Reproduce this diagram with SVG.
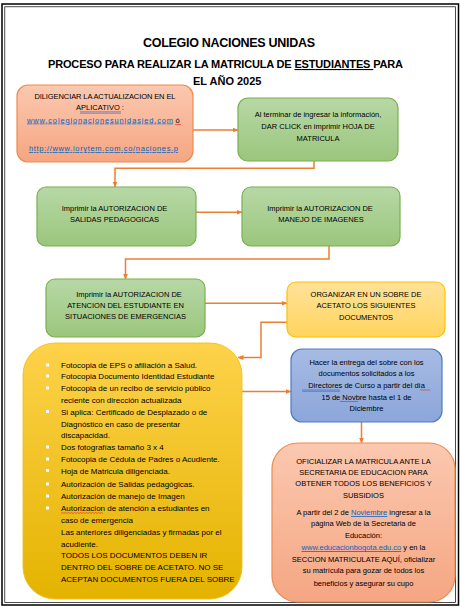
<svg xmlns="http://www.w3.org/2000/svg" width="462" height="609" viewBox="0 0 462 609">
<defs>
<linearGradient id="gOrange" x1="0" y1="0" x2="0" y2="1"><stop offset="0" stop-color="#fbc8b0"/><stop offset="1" stop-color="#f5a682"/></linearGradient>
<linearGradient id="gGreen" x1="0" y1="0" x2="0" y2="1"><stop offset="0" stop-color="#b7d8a6"/><stop offset="1" stop-color="#9bc67d"/></linearGradient>
<linearGradient id="gYellow" x1="0" y1="0" x2="0" y2="1"><stop offset="0" stop-color="#ffe29a"/><stop offset="1" stop-color="#ffd55e"/></linearGradient>
<linearGradient id="gGold" x1="0" y1="0" x2="0" y2="1"><stop offset="0" stop-color="#fed24a"/><stop offset="1" stop-color="#e4b300"/></linearGradient>
<linearGradient id="gBlue" x1="0" y1="0" x2="0" y2="1"><stop offset="0" stop-color="#a7bbe3"/><stop offset="1" stop-color="#8ba6da"/></linearGradient>
<marker id="arr" viewBox="0 0 6 6" refX="5.5" refY="3" markerWidth="6" markerHeight="6" markerUnits="userSpaceOnUse" orient="auto"><path d="M0,0.5 L6,3 L0,5.5 Z" fill="#ed7d31"/></marker>
</defs>
<style>
text{font-family:"Liberation Sans",Arial,sans-serif;fill:#000}
.t{font-size:7.5px}
.b{font-size:8px}
.c{text-anchor:middle}
.h{font-weight:bold}
.lnk{fill:#0563c1;text-decoration:underline}
.conn{fill:none;stroke:#ed7d31;stroke-width:1.5}
.wavy{fill:none;stroke:#e02020;stroke-width:0.6}
.dbl{stroke:#3b5fc0;stroke-width:0.6}
</style>
<rect width="462" height="609" fill="#fff"/>
<g id="frame" fill="none" stroke="#000">
<rect x="2" y="4" width="456.5" height="601" stroke-width="1.5"/>
<rect x="4.8" y="6.8" width="450.8" height="595.6" stroke-width="0.7"/>
</g>
<g id="title">
<text class="c h" x="229" y="47" font-size="12.5" textLength="172">COLEGIO NACIONES UNIDAS</text>
<text class="c h" x="225.5" y="68" font-size="11" textLength="355">PROCESO PARA REALIZAR LA MATRICULA DE <tspan text-decoration="underline">ESTUDIANTES </tspan>PARA</text>
<text class="h" x="193" y="85" font-size="11">EL AÑO 2025</text>
</g>
<g id="connectors">
<path class="conn" d="M193,130 H238" marker-end="url(#arr)"/>
<path class="conn" d="M314,161 V168.3 H115 V187" marker-end="url(#arr)"/>
<path class="conn" d="M196,212.3 H242" marker-end="url(#arr)"/>
<path class="conn" d="M329,246 V259 H125.5 V279" marker-end="url(#arr)"/>
<path class="conn" d="M205,303.3 H287" marker-end="url(#arr)"/>
<path class="conn" d="M287,322.3 H261 V357.5 H238" marker-end="url(#arr)"/>
<path class="conn" d="M241,391.5 H291" marker-end="url(#arr)"/>
<path class="conn" d="M361.5,422 V443" marker-end="url(#arr)"/>
</g>
<g id="n1">
<rect x="17" y="85" width="176" height="77" rx="11" fill="url(#gOrange)" stroke="#f08a4b" stroke-width="1.2"/>
<text class="t c" x="105" y="99" textLength="141">DILIGENCIAR LA ACTUALIZACION  EN EL</text>
<text class="t c" x="100" y="110">APLICATIVO :</text>
<line class="dbl" x1="80" y1="111.8" x2="121" y2="111.8"/>
<line class="dbl" x1="80" y1="113.2" x2="121" y2="113.2"/>
<text class="t lnk" x="27" y="122.5" textLength="146">www.colegionacionesunidasied.com</text>
<text class="t" x="175.5" y="122.5">ó</text>
<path class="wavy" d="M175,125 l1,-1 l1,1 l1,-1 l1,1 l1,-1 l1,1"/>
<text class="t lnk" x="29" y="151" textLength="149">http://www.lorytem.com.co/naciones.p</text>
</g>
<g id="n2">
<rect x="238" y="98" width="160" height="63" rx="10" fill="url(#gGreen)" stroke="#79b04f" stroke-width="1.2"/>
<text class="t c" x="318" y="117">Al terminar de ingresar la información,</text>
<text class="t c" x="318" y="129">DAR CLICK en imprimir HOJA DE</text>
<text class="t c" x="318" y="141">MATRICULA</text>
</g>
<g id="n3">
<rect x="37" y="187" width="159" height="59" rx="9" fill="url(#gGreen)" stroke="#79b04f" stroke-width="1.2"/>
<text class="t c" x="114.5" y="211">Imprimir la AUTORIZACION DE</text>
<text class="t c" x="114.5" y="221.5">SALIDAS PEDAGOGICAS</text>
</g>
<g id="n4">
<rect x="242" y="187" width="158" height="59" rx="9" fill="url(#gGreen)" stroke="#79b04f" stroke-width="1.2"/>
<text class="t c" x="320" y="211">Imprimir la AUTORIZACION DE</text>
<text class="t c" x="321" y="221.5">MANEJO DE IMAGENES</text>
</g>
<g id="n5">
<rect x="46" y="279" width="159" height="58" rx="9" fill="url(#gGreen)" stroke="#79b04f" stroke-width="1.2"/>
<text class="t c" x="129" y="297">Imprimir la AUTORIZACION DE</text>
<text class="t c" x="125.5" y="307.5">ATENCION DEL ESTUDIANTE EN</text>
<text class="t c" x="125.5" y="318.5">SITUACIONES DE EMERGENCIAS</text>
</g>
<g id="n6">
<rect x="287" y="282" width="158" height="55" rx="9" fill="url(#gYellow)" stroke="#ffc000" stroke-width="1.2"/>
<text class="t c" x="366" y="297">ORGANIZAR EN UN SOBRE DE</text>
<text class="t c" x="366" y="308">ACETATO  LOS SIGUIENTES</text>
<text class="t c" x="366" y="319.5">DOCUMENTOS</text>
</g>
<g id="n7">
<rect x="23" y="343" width="219" height="256" rx="32" fill="url(#gGold)" stroke="#f2bd10" stroke-width="0.8"/>
<g fill="#fff">
<rect x="46" y="363.5" width="3" height="3"/>
<rect x="46" y="374.5" width="3" height="3"/>
<rect x="46" y="386.5" width="3" height="3"/>
<rect x="46" y="410" width="3" height="3"/>
<rect x="46" y="445.5" width="3" height="3"/>
<rect x="46" y="457.5" width="3" height="3"/>
<rect x="46" y="469" width="3" height="3"/>
<rect x="46" y="482.5" width="3" height="3"/>
<rect x="46" y="494.5" width="3" height="3"/>
<rect x="46" y="506.5" width="3" height="3"/>
</g>
<text class="b" x="61" y="368">Fotocopia de EPS o afiliación a Salud.</text>
<text class="b" x="61" y="379">Fotocopia Documento Identidad Estudiante</text>
<text class="b" x="61" y="391">Fotocopia de un recibo de servicio público</text>
<text class="b" x="61" y="403">reciente con dirección actualizada</text>
<text class="b" x="61" y="414.5">Si aplica: Certificado de Desplazado o de</text>
<text class="b" x="61" y="426.5">Diagnóstico en caso de presentar</text>
<text class="b" x="61" y="438">discapacidad.</text>
<text class="b" x="61" y="450">Dos fotografías tamaño 3 x 4</text>
<text class="b" x="61" y="462">Fotocopia de Cédula de Padres o Acudiente.</text>
<text class="b" x="61" y="473.5">Hoja de Matricula diligenciada.</text>
<text class="b" x="61" y="487">Autorización de Salidas pedagógicas.</text>
<text class="b" x="61" y="499">Autorización de manejo de Imagen</text>
<text class="b" x="61" y="511">Autorizacion de atención a estudiantes en</text>
<path class="wavy" d="M61,513.5 l1.5,-1 l1.5,1 l1.5,-1 l1.5,1 l1.5,-1 l1.5,1 l1.5,-1 l1.5,1 l1.5,-1 l1.5,1 l1.5,-1 l1.5,1 l1.5,-1 l1.5,1 l1.5,-1 l1.5,1 l1.5,-1 l1.5,1 l1.5,-1 l1.5,1 l1.5,-1 l1.5,1 l1.5,-1 l1.5,1 l1.5,-1 l1.5,1 l1.5,-1 l1.5,1"/>
<text class="b" x="61" y="523">caso de emergencia</text>
<text class="b" x="61" y="535">Las anteriores diligenciadas y firmadas por el</text>
<text class="b" x="61" y="546.5">acudiente.</text>
<text class="b" x="61" y="558">TODOS LOS DOCUMENTOS DEBEN IR</text>
<text class="b" x="61" y="570">DENTRO  DEL SOBRE DE ACETATO.  NO SE</text>
<text class="b" x="61" y="581.5">ACEPTAN DOCUMENTOS FUERA DEL SOBRE</text>
</g>
<g id="n8">
<rect x="291" y="349" width="151" height="73" rx="11" fill="url(#gBlue)" stroke="#4f7ac7" stroke-width="1.2"/>
<text class="t c" x="366.5" y="364.5">Hacer la entrega del sobre con los</text>
<text class="t c" x="366.5" y="376">documentos solicitados a los</text>
<text class="t c" x="366.5" y="388"><tspan>Directores</tspan> de Curso a partir del día</text>
<line class="dbl" x1="302" y1="390" x2="340" y2="390"/>
<line class="dbl" x1="302" y1="391.3" x2="340" y2="391.3"/>
<path class="wavy" d="M420,390.5 l1,-1 l1,1 l1,-1 l1,1 l1,-1 l1,1 l1,-1 l1,1 l1,-1 l1,1"/>
<text class="t c" x="366.5" y="399.5">15 de Novbre hasta el 1 de</text>
<path class="wavy" d="M340,402 l1,-1 l1,1 l1,-1 l1,1 l1,-1 l1,1 l1,-1 l1,1 l1,-1 l1,1 l1,-1 l1,1 l1,-1 l1,1 l1,-1 l1,1 l1,-1 l1,1"/>
<text class="t c" x="366.5" y="411">Diciembre</text>
</g>
<g id="n9">
<rect x="272" y="443" width="183" height="159" rx="26" fill="url(#gOrange)" stroke="#f08a4b" stroke-width="1.2"/>
<text class="t c" x="363.5" y="464">OFICIALIZAR LA MATRICULA ANTE LA</text>
<text class="t c" x="363.5" y="475">SECRETARIA  DE EDUCACION PARA</text>
<text class="t c" x="363.5" y="486">OBTENER TODOS LOS BENEFICIOS Y</text>
<text class="t c" x="363.5" y="497.5">SUBSIDIOS</text>
<text class="t c" x="363.5" y="515">A partir del 2 de <tspan fill="#0563c1" text-decoration="underline">Noviembre</tspan> ingresar a la</text>
<text class="t c" x="363.5" y="526">página Web de la Secretaria de</text>
<text class="t c" x="363.5" y="537.5">Educación:</text>
<text class="t c" x="363.5" y="550"><tspan fill="#0563c1" text-decoration="underline">www.educacionbogota.edu.co</tspan> y en la</text>
<text class="t c" x="363.5" y="561.5">SECCION MATRICULATE AQUÍ, oficializar</text>
<text class="t c" x="363.5" y="573">su matrícula para gozar de todos los</text>
<text class="t c" x="363.5" y="586">beneficios y asegurar su cupo</text>
</g>
</svg>
